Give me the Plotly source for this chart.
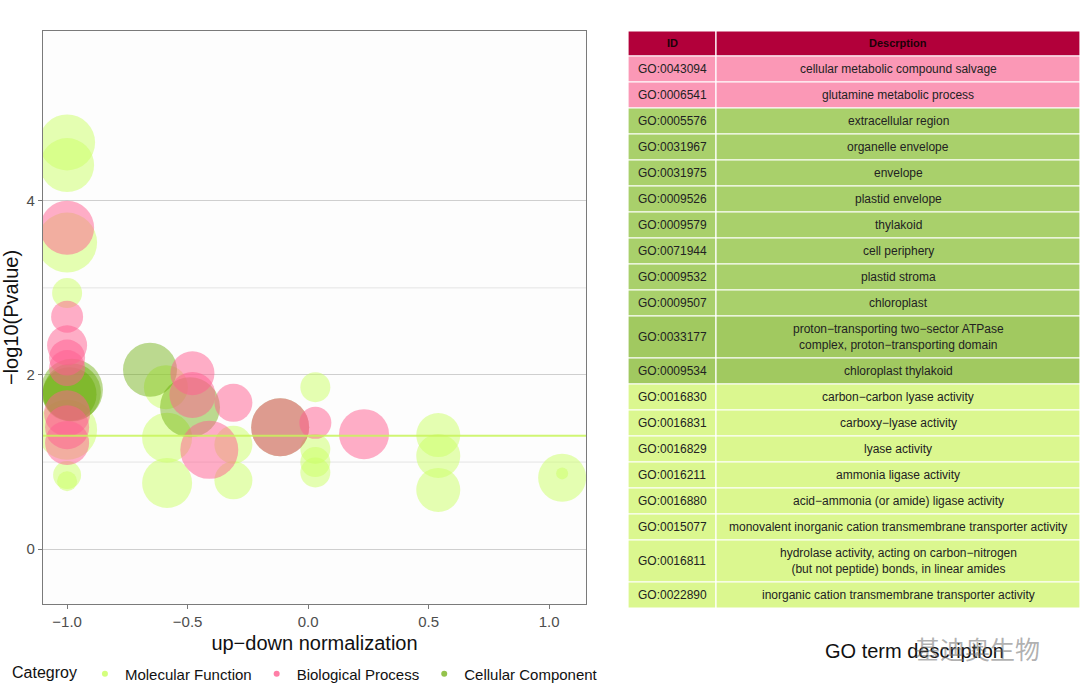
import plotly.graph_objects as go

# ---------------- data ----------------
mf_x = [-1.0, -1.0, -1.0, -1.0, -1.0, -1.0, -1.0, -0.585, -0.585, -0.59, -0.31, -0.31,
        0.03, 0.03, 0.03, 0.03, 0.54, 0.54, 0.54, 1.054, 1.054]
mf_y = [4.67, 4.41, 3.52, 2.94, 1.37, 0.85, 0.78, 1.28, 0.76, 1.86, 1.20, 0.79,
        1.86, 1.15, 1.00, 0.88, 1.31, 1.07, 0.68, 0.82, 0.87]
mf_n = [28, 27, 30, 15, 30, 14, 10, 25, 25, 22, 19, 19,
        15, 15, 15, 15, 22, 22, 22, 24, 6]

cc_x = [-0.98, -0.98, -0.99, -0.656, -0.49, -0.116]
cc_y = [1.83, 1.80, 1.78, 2.06, 1.63, 1.40]
cc_n = [31, 29, 27, 27, 30, 29]

bp_x = [-1.0, -1.0, -1.0, -1.0, -1.0, -1.0, -1.0, -1.0, -0.48, -0.48, -0.31, -0.41,
        -0.116, 0.03, 0.232]
bp_y = [3.69, 2.67, 2.34, 2.20, 2.08, 1.56, 1.40, 1.22, 2.02, 1.77, 1.68, 1.14,
        1.40, 1.45, 1.32]
bp_n = [27, 16, 20, 18, 18, 23, 22, 22, 22, 23, 19, 29, 29, 16, 25]

threshold = 1.301  # -log10(0.05)

x_ticks = [-1.0, -0.5, 0.0, 0.5, 1.0]
y_ticks = [0, 2, 4]
y_minor = [1, 3]

tbl_header = ["ID", "Descrption"]
tbl_ids = ["GO:0043094", "GO:0006541", "GO:0005576", "GO:0031967", "GO:0031975",
           "GO:0009526", "GO:0009579", "GO:0071944", "GO:0009532", "GO:0009507",
           "GO:0033177", "GO:0009534", "GO:0016830", "GO:0016831", "GO:0016829",
           "GO:0016211", "GO:0016880", "GO:0015077", "GO:0016811", "GO:0022890"]
tbl_desc = ["cellular metabolic compound salvage", "glutamine metabolic process",
            "extracellular region", "organelle envelope", "envelope", "plastid envelope",
            "thylakoid", "cell periphery", "plastid stroma", "chloroplast",
            "proton\u2212transporting two\u2212sector ATPase<br>complex, proton\u2212transporting domain",
            "chloroplast thylakoid", "carbon\u2212carbon lyase activity", "carboxy\u2212lyase activity",
            "lyase activity", "ammonia ligase activity", "acid\u2212ammonia (or amide) ligase activity",
            "monovalent inorganic cation transmembrane transporter activity",
            "hydrolase activity, acting on carbon\u2212nitrogen<br>(but not peptide) bonds, in linear amides",
            "inorganic cation transmembrane transporter activity"]
tbl_cat = ["BP", "BP", "CC", "CC", "CC", "CC", "CC", "CC", "CC", "CC", "CC2", "CC2",
           "MF", "MF", "MF", "MF", "MF", "MF", "MF", "MF"]

# ---------------- styles ----------------
W, H = 1080, 696
FONT = "Liberation Sans, Arial, sans-serif"
C_MF = "rgba(204,255,102,0.72)"
C_BP = "rgba(255,95,145,0.72)"
C_CC = "rgba(102,170,0,0.62)"
row_fill = {"BP": "#fb98b6", "CC": "#a9d06b", "CC2": "#a1c960", "MF": "#dbf78f"}
HEADER_FILL = "#b2003a"

fig = go.Figure()


def bubbles(x, y, n, color, name):
    fig.add_trace(go.Scatter(
        x=x, y=y, mode="markers", name=name, showlegend=False,
        marker=dict(size=n, sizemode="diameter", sizeref=0.5, color=color,
                    line=dict(width=0)),
        xaxis="x", yaxis="y", hoverinfo="x+y"))


bubbles(mf_x, mf_y, mf_n, C_MF, "Molecular Function")
bubbles(cc_x, cc_y, cc_n, C_CC, "Cellular Component")
bubbles(bp_x, bp_y, bp_n, C_BP, "Biological Process")

# legend entries
for nm, col, rk in [("Molecular Function", "rgba(204,255,102,0.85)", 1),
                    ("Biological Process", "rgba(255,95,145,0.8)", 2),
                    ("Cellular Component", "rgba(102,170,0,0.7)", 3)]:
    fig.add_trace(go.Scatter(x=[None], y=[None], mode="markers", name=nm,
                             legendrank=rk, marker=dict(size=6, color=col),
                             xaxis="x", yaxis="y"))

# ---------------- table (drawn on its own hidden axes) ----------------
COL_W = [88, 364]
HEAD_H = 25
row_h = [26 if d.count("<br>") == 0 else 42 for d in tbl_desc]
total_h = HEAD_H + sum(row_h)
TBL_LEFT, TBL_TOP = 628, 31

shapes = []
annotations = []
col_edges = [0, COL_W[0], COL_W[0] + COL_W[1]]


def cell(x0, x1, y0, y1, fill, text, font):
    shapes.append(dict(type="rect", xref="x2", yref="y2", x0=x0, x1=x1, y0=y0, y1=y1,
                       fillcolor=fill, line=dict(color="white", width=1.2), layer="below"))
    annotations.append(dict(xref="x2", yref="y2", x=(x0 + x1) / 2, y=(y0 + y1) / 2,
                            text=text, showarrow=False, xanchor="center",
                            yanchor="middle", font=font, align="center"))


hfont = dict(family=FONT, size=11, color="#1c0008")
cfont = dict(family=FONT, size=12, color="#222222")
for j, h in enumerate(tbl_header):
    cell(col_edges[j], col_edges[j + 1], 0, HEAD_H, HEADER_FILL, "<b>%s</b>" % h, hfont)
top = HEAD_H
for i in range(len(tbl_ids)):
    fill = row_fill[tbl_cat[i]]
    cell(col_edges[0], col_edges[1], top, top + row_h[i], fill, tbl_ids[i], cfont)
    cell(col_edges[1], col_edges[2], top, top + row_h[i], fill, tbl_desc[i], cfont)
    top += row_h[i]

# grid lines on scatter
for v in y_minor:
    shapes.append(dict(type="line", xref="x domain", yref="y", x0=0, x1=1, y0=v, y1=v,
                       line=dict(color="#e4e4e4", width=1), layer="below"))
shapes.append(dict(type="line", xref="x domain", yref="y", x0=0, x1=1,
                   y0=threshold, y1=threshold,
                   line=dict(color="rgba(200,245,90,0.85)", width=2), layer="above"))

annotations += [
    dict(text="GO term description", xref="paper", yref="paper",
         x=914 / W, y=1 - 651 / H, showarrow=False, xanchor="center", yanchor="middle",
         font=dict(family=FONT, size=20, color="#111")),
    dict(text="基迪奥生物", xref="paper", yref="paper",
         x=977 / W, y=1 - 648 / H, showarrow=False, xanchor="center", yanchor="middle",
         font=dict(size=25, color="rgba(110,110,110,0.55)", family="Noto Sans CJK SC")),
]

fig.update_layout(
    width=W, height=H,
    margin=dict(l=0, r=0, t=0, b=0),
    paper_bgcolor="white", plot_bgcolor="#fdfdfd",
    font=dict(family=FONT, color="#222222"),
    shapes=shapes,
    annotations=annotations,
    xaxis=dict(domain=[43 / W, 586 / W], range=[-1.1, 1.153],
               tickvals=x_ticks, tickformat=".1f", showgrid=False, zeroline=False,
               showline=True, mirror=True, linecolor="#7a7a7a", linewidth=1.2,
               ticks="outside", ticklen=4, tickcolor="#7a7a7a",
               tickfont=dict(size=15, color="#4d4d4d"),
               title=dict(text="up\u2212down normalization", font=dict(size=20, color="#111"),
                          standoff=6)),
    yaxis=dict(domain=[1 - 604 / H, 1 - 31 / H], range=[-0.63, 5.95],
               tickvals=y_ticks, showgrid=True, gridcolor="#cfcfcf", gridwidth=1,
               zeroline=False, showline=True, mirror=True, linecolor="#7a7a7a",
               linewidth=1.2, ticks="outside", ticklen=4, tickcolor="#7a7a7a",
               tickfont=dict(size=15, color="#4d4d4d"),
               title=dict(text="\u2212log10(Pvalue)", font=dict(size=20, color="#111"),
                          standoff=8)),
    xaxis2=dict(domain=[TBL_LEFT / W, (TBL_LEFT + sum(COL_W)) / W],
                range=[0, sum(COL_W)], visible=False, fixedrange=True),
    yaxis2=dict(domain=[1 - (TBL_TOP + total_h) / H, 1 - TBL_TOP / H],
                range=[total_h, 0], visible=False, fixedrange=True, anchor="x2"),
    legend=dict(orientation="h", x=10 / W, y=1 - 674 / H, xanchor="left", yanchor="middle",
                title=dict(text="Categroy", font=dict(size=16, color="#111")),
                font=dict(size=15, color="#111"), bgcolor="rgba(0,0,0,0)"),
)
fig.layout.xaxis2.anchor = "y2"

fig.write_html("out.html", config={"displayModeBar": False},
               post_script="document.body.style.margin='0px';document.body.style.overflow='hidden';")
